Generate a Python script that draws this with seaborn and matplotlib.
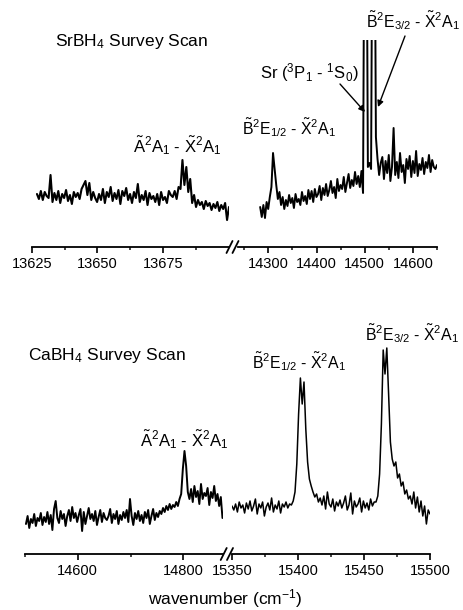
import numpy as np
import pandas as pd
import matplotlib
matplotlib.use("Agg")
import matplotlib.pyplot as plt
import seaborn as sns
from matplotlib.lines import Line2D

# ---------------- data (intensity in arbitrary units) ----------------
sr_a_start, sr_a_stop = 13627.0, 13700.0
sr_a_int = [53, 48, 56, 47, 55, 51, 49, 72, 45, 54,
            47, 56, 44, 53, 49, 57, 46, 52, 43, 55,
            50, 54, 48, 58, 62, 66, 52, 64, 47, 55,
            49, 45, 53, 47, 58, 44, 55, 50, 60, 46,
            54, 48, 57, 43, 56, 51, 59, 47, 53, 44,
            55, 49, 63, 45, 52, 47, 56, 42, 54, 48,
            51, 45, 53, 42, 55, 47, 50, 44, 56, 52,
            50, 56, 48, 60, 58, 87, 62, 80, 55, 68,
            44, 52, 40, 47, 42, 45, 38, 46, 41, 44,
            37, 43, 39, 45, 36, 42, 38, 44, 27, 40]

sr_b_start, sr_b_stop = 14283.0, 14650.0
sr_b_int = [40, 30, 42, 29, 45, 38,
            50, 60, 94, 78, 62, 48, 55,
            42, 50, 38, 47, 41, 52, 44, 49, 39, 53, 45, 48, 42, 55, 46, 51, 43, 57,
            48, 56, 45, 58, 50, 53, 61, 47, 59, 52,
            63, 51, 57, 66, 54, 60, 49, 68, 56, 62,
            58, 70, 55, 64, 73, 59, 67, 61, 75, 63,
            71, 60, 76, 54,
            420, 420, 80, 84, 78, 420, 420, 110,
            88, 72, 84, 90, 68, 86, 74, 92, 66, 80,
            119, 72, 85, 69, 94, 75, 82, 64, 88, 78,
            91, 70, 86, 74, 96, 71, 83, 77, 89, 73,
            85, 79, 92, 75, 87, 80, 78, 82]

ca_a_start, ca_a_stop = 14502.0, 14874.0
ca_a_int = [30, 38, 26, 35, 31, 40, 28, 36, 33, 41,
            29, 37, 32, 42, 30, 39, 24, 45, 53, 36,
            31, 43, 35, 40, 28, 38, 44, 33, 47, 36,
            41, 32, 39, 45, 23, 42, 30, 38, 46, 35,
            40, 33, 43, 29, 37, 44, 32, 41, 36, 34,
            38, 45, 31, 40, 35, 43, 30, 39, 34, 42,
            36, 44, 32, 55, 38, 29, 41, 35, 43, 33,
            39, 31, 42, 36, 44, 30, 38, 45, 34, 41,
            37, 43, 40, 46, 42, 48, 44, 50, 45, 49,
            47, 52, 48, 55, 60, 85, 103, 88, 62, 55,
            65, 52, 68, 57, 63, 50, 70, 55, 61, 58,
            66, 49, 62, 56, 68, 53, 60, 48, 57, 36]

ca_b_start, ca_b_stop = 15350.0, 15500.0
ca_b_int = [48, 44, 50, 42, 52, 46, 49, 41, 51, 45,
            53, 43, 48, 55, 40, 50, 46, 52, 38, 47,
            51, 44, 56, 42, 49, 45, 53, 41, 50, 47,
            52, 46, 50,
            49, 53, 62, 90, 140, 176, 150, 172, 125, 92, 75, 68, 62, 57, 60, 52, 56,
            49, 58, 45, 62, 50, 47, 55, 43, 52, 48,
            54, 46, 51, 58, 44, 49, 61, 40, 53, 47,
            50, 56, 42, 53, 46, 51, 44, 55, 48, 52,
            52, 58, 80, 130, 204, 180, 206, 160, 112, 95,
            88, 92, 76, 80, 68, 72, 60, 64, 55, 58,
            50, 62, 46, 57, 42, 53, 38, 48, 30, 44, 40]

# axis ranges and ticks
sr_a_xlim = (13625, 13700)
sr_b_xlim = (14237, 14650)
ca_a_xlim = (14500, 14875)
ca_b_xlim = (15350, 15500)
sr_a_major = [13625, 13650, 13675]
sr_a_minor = [13637.5, 13662.5, 13687.5]
sr_b_major = [14300, 14400, 14500, 14600]
sr_b_minor = [14250, 14350, 14450, 14550, 14650]
ca_a_major = [14600, 14800]
ca_a_minor = [14500, 14700]
ca_b_major = [15350, 15400, 15450, 15500]
ca_b_minor = [15375, 15425, 15475]

# ---------------- style ----------------
sns.set_style("white")
plt.rcParams["font.family"] = ["Liberation Sans", "DejaVu Sans"]
plt.rcParams["mathtext.fontset"] = "custom"
plt.rcParams["mathtext.rm"] = "Liberation Sans"
plt.rcParams["mathtext.it"] = "Liberation Sans:italic"
plt.rcParams["mathtext.bf"] = "Liberation Sans:bold"
plt.rcParams["mathtext.default"] = "regular"

W, H = 464, 610
fig = plt.figure(figsize=(W / 100, H / 100), dpi=100)


def px_axes(x0, x1, ytop, ybot):
    return fig.add_axes([x0 / W, 1 - ybot / H, (x1 - x0) / W, (ybot - ytop) / H])


def draw(ax, start, stop, vals, xlim, ylim, major, minor, lw):
    df = pd.DataFrame({"wn": np.linspace(start, stop, len(vals)), "I": vals})
    sns.lineplot(data=df, x="wn", y="I", ax=ax, color="black", linewidth=lw,
                 estimator=None, sort=False)
    ax.set_xlim(*xlim)
    ax.set_ylim(*ylim)
    ax.set_yticks([])
    ax.set_xticks(major)
    ax.set_xticks(minor, minor=True)
    ax.set_xticklabels([str(v) for v in major])
    ax.set_xlabel("")
    ax.set_ylabel("")
    for s in ["left", "right", "top"]:
        ax.spines[s].set_visible(False)
    ax.spines["bottom"].set_linewidth(1.3)
    ax.spines["bottom"].set_color("black")
    ax.tick_params(axis="x", which="major", direction="out", length=4.5, width=1.2,
                   labelsize=10.5, pad=3, bottom=True, colors="black")
    ax.tick_params(axis="x", which="minor", direction="out", length=2.5, width=1.2,
                   bottom=True)
    ax.patch.set_alpha(0)


TOP_Y = 207
ax1 = px_axes(31.7, 229, 40, 247)
draw(ax1, sr_a_start, sr_a_stop, sr_a_int, sr_a_xlim, (0, TOP_Y), sr_a_major, sr_a_minor, 1.5)
ax2 = px_axes(238, 437, 40, 247)
draw(ax2, sr_b_start, sr_b_stop, sr_b_int, sr_b_xlim, (0, TOP_Y), sr_b_major, sr_b_minor, 1.4)

BOT_Y = 224
ax3 = px_axes(24.9, 223, 330, 554)
draw(ax3, ca_a_start, ca_a_stop, ca_a_int, ca_a_xlim, (0, BOT_Y), ca_a_major, ca_a_minor, 1.4)
ax4 = px_axes(232, 430, 330, 554)
draw(ax4, ca_b_start, ca_b_stop, ca_b_int, ca_b_xlim, (0, BOT_Y), ca_b_major, ca_b_minor, 1.1)


def fline(x0, y0, x1, y1, lw=1.3):
    fig.add_artist(Line2D([x0 / W, x1 / W], [1 - y0 / H, 1 - y1 / H],
                          transform=fig.transFigure, color="black", linewidth=lw))


# axis break marks
for cx in (229.5, 235.5):
    fline(cx - 3, 253, cx + 3, 241)
for cx in (223.7, 230.0):
    fline(cx - 3, 560, cx + 3, 548)


def ftext(x, y, s, size=12, ha="left"):
    fig.text(x / W, 1 - y / H, s, fontsize=size, ha=ha, va="baseline", color="black")


A_X = r"$\tilde{A}^2A_1$ - $\tilde{X}^2A_1$"
B12 = r"$\tilde{B}^2E_{1/2}$ - $\tilde{X}^2A_1$"
B32 = r"$\tilde{B}^2E_{3/2}$ - $\tilde{X}^2A_1$"

ftext(55, 46, r"SrBH$_4$ Survey Scan", 12.5)
ftext(133, 152, A_X)
ftext(242, 134, B12, 11.4)
ftext(260, 78, r"Sr ($^3P_1$ - $^1S_0$)")
ftext(366, 27, B32, 11.4)

ftext(28, 360, r"CaBH$_4$ Survey Scan", 12.5)
ftext(140, 446, A_X)
ftext(252, 368, B12, 11.4)
ftext(365, 340, B32, 11.4)
ftext(225, 604, r"wavenumber (cm$^{-1}$)", 12.5, ha="center")


def farrow(x0, y0, x1, y1):
    fig.add_artist(matplotlib.patches.FancyArrowPatch(
        (x0 / W, 1 - y0 / H), (x1 / W, 1 - y1 / H), transform=fig.transFigure,
        arrowstyle="-|>", mutation_scale=9, color="black", linewidth=1.0,
        shrinkA=0, shrinkB=0))


farrow(340, 84, 365, 112)
farrow(405, 36, 378, 107)

fig.savefig("out.png", dpi=100)
